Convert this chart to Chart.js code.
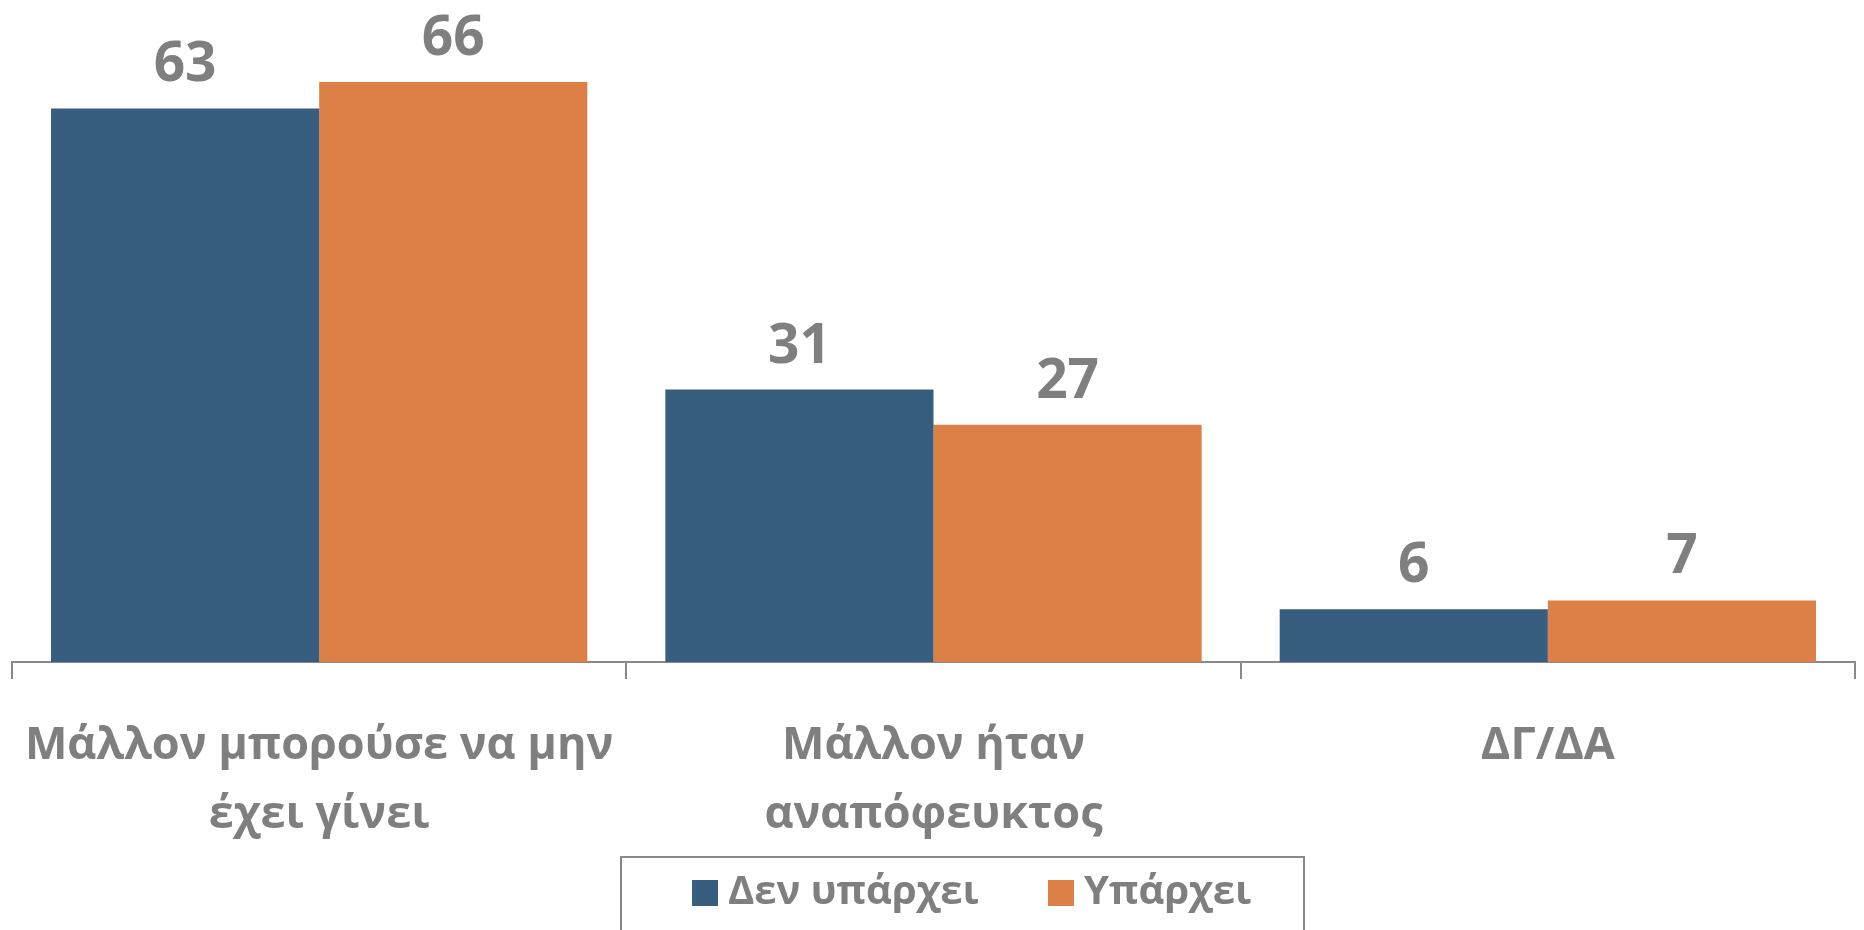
<!DOCTYPE html>
<html>
<head>
<meta charset="utf-8">
<script src="https://cdn.jsdelivr.net/npm/chart.js@4.4.1/dist/chart.umd.min.js"></script>
<style>
  html, body { margin: 0; padding: 0; background: #fff; }
  #wrap { position: relative; width: 1864px; height: 930px; }
</style>
</head>
<body>
<div id="wrap"><canvas id="chart"></canvas></div>
<script>
const categories = [
  ['Μάλλον μπορούσε να μην', 'έχει γίνει'],
  ['Μάλλον ήταν', 'αναπόφευκτος'],
  ['ΔΓ/ΔΑ']
];
const seriesNames = ['Δεν υπάρχει', 'Υπάρχει'];
const noValues = [63, 31, 6];
const yesValues = [66, 27, 7];

const BLUE = '#375E7E';
const ORANGE = '#DD8047';
const GREY_TEXT = '#7F7F7F';
const AXIS = '#898989';
const FONT = '"Open Sans", "Noto Sans", sans-serif';

// value labels above each bar
const valueLabels = {
  id: 'valueLabels',
  afterDatasetsDraw(chart) {
    const ctx = chart.ctx;
    ctx.save();
    ctx.fillStyle = GREY_TEXT;
    ctx.font = 'bold 55px ' + FONT;
    ctx.textAlign = 'center';
    ctx.textBaseline = 'alphabetic';
    chart.data.datasets.forEach((ds, i) => {
      chart.getDatasetMeta(i).data.forEach((bar, j) => {
        ctx.fillText(ds.data[j], bar.x, bar.y - 27);
      });
    });
    ctx.restore();
  }
};

// boxed legend at the bottom
const boxedLegend = {
  id: 'boxedLegend',
  afterDraw(chart) {
    const ctx = chart.ctx;
    ctx.save();
    ctx.strokeStyle = AXIS;
    ctx.lineWidth = 2;
    ctx.strokeRect(621, 857, 683, 90);
    ctx.font = 'bold 40px ' + FONT;
    ctx.textBaseline = 'middle';
    ctx.textAlign = 'left';
    const items = [
      { x: 692, color: BLUE, text: seriesNames[0] },
      { x: 1048, color: ORANGE, text: seriesNames[1] }
    ];
    items.forEach(it => {
      ctx.fillStyle = it.color;
      ctx.fillRect(it.x, 880, 26, 26);
      ctx.fillStyle = GREY_TEXT;
      ctx.fillText(it.text, it.x + 36, 893);
    });
    ctx.restore();
  }
};

new Chart(document.getElementById('chart'), {
  type: 'bar',
  data: {
    labels: categories,
    datasets: [
      { label: seriesNames[0], data: noValues, backgroundColor: BLUE },
      { label: seriesNames[1], data: yesValues, backgroundColor: ORANGE }
    ]
  },
  options: {
    responsive: true,
    maintainAspectRatio: false,
    animation: false,
    layout: { padding: { left: 12, right: 9, top: 3, bottom: 0 } },
    plugins: {
      legend: { display: false },
      tooltip: { enabled: false }
    },
    datasets: {
      bar: { categoryPercentage: 0.873, barPercentage: 1.0 }
    },
    scales: {
      x: {
        grid: {
          offset: true,
          drawOnChartArea: false,
          drawTicks: true,
          tickLength: 17,
          color: AXIS,
          lineWidth: 2
        },
        border: { display: true, color: AXIS, width: 2 },
        ticks: {
          color: GREY_TEXT,
          font: { family: FONT, size: 45, weight: 'bold', lineHeight: 1.55 },
          padding: 32,
          maxRotation: 0,
          autoSkip: false
        },
        afterFit(scale) {
          scale.height = 268;
          scale.paddingLeft = 0;
          scale.paddingRight = 0;
        }
      },
      y: {
        display: false,
        min: 0,
        max: 75
      }
    }
  },
  plugins: [valueLabels, boxedLegend]
});
</script>
</body>
</html>
